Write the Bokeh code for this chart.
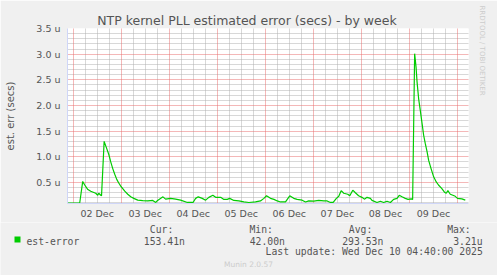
from bokeh.plotting import figure
from bokeh.layouts import column
from bokeh.models import (Range1d, FixedTicker, Title, Label, Grid)
from bokeh.embed import file_html
from bokeh.resources import INLINE

# ---------------- data ----------------
# time in hours since 2025-12-02 00:00, value in microseconds
hours_since_dec2 = [
    -2.8, 3.3, 4.8, 5.8, 7.2, 8.8, 11.3, 12.3, 12.8, 13.8, 14.2, 15.5,
    16.8, 17.8, 18.8, 19.8, 20.8, 21.8, 22.8, 23.8, 24.8, 25.8, 27.3, 28.8,
    30.3, 32.3, 34.8, 37.3, 39.8, 41.3, 42.2, 44.9, 46.2, 48.7, 51.2, 53.7,
    57.1, 59.9, 61.2, 62.5, 64.5, 66.2, 67.8, 69.8, 71.2, 73.7, 75.3, 77.0,
    78.2, 80.3, 82.8, 85.3, 87.8, 91.1, 93.6, 95.3, 96.6, 98.6, 100.3, 102.0,
    103.6, 106.1, 108.2, 110.2, 111.9, 114.4, 116.1, 117.7, 120.2, 122.7, 125.2, 126.9,
    128.5, 129.9, 131.5, 132.7, 133.9, 135.2, 137.2, 138.2, 139.7, 141.0, 142.6, 144.3,
    145.5, 146.8, 148.5, 149.3, 151.8, 153.5, 155.1, 156.8, 158.5, 160.1, 161.8, 162.9,
    164.3, 165.9, 167.3, 168.9, 169.6, 170.6, 171.3, 171.8, 172.6, 173.4, 174.3, 175.1,
    175.9, 176.8, 177.6, 178.8, 180.1, 181.4, 182.5, 184.2, 185.5, 186.4, 187.2, 188.4,
    189.7, 190.9, 192.0, 194.2, 195.9,
]
est_error_us = [
    0.10, 0.10, 0.52, 0.45, 0.37, 0.33, 0.29, 0.25, 0.29, 0.25, 0.24, 1.30,
    1.16, 1.05, 0.90, 0.77, 0.66, 0.56, 0.49, 0.43, 0.38, 0.33, 0.27, 0.22,
    0.19, 0.155, 0.145, 0.14, 0.15, 0.11, 0.15, 0.22, 0.175, 0.19, 0.175, 0.155,
    0.11, 0.11, 0.19, 0.22, 0.19, 0.155, 0.21, 0.25, 0.21, 0.21, 0.17, 0.17,
    0.19, 0.15, 0.14, 0.12, 0.11, 0.12, 0.14, 0.19, 0.24, 0.19, 0.17, 0.14,
    0.12, 0.12, 0.24, 0.19, 0.17, 0.155, 0.12, 0.14, 0.135, 0.15, 0.14, 0.14,
    0.11, 0.11, 0.19, 0.23, 0.34, 0.29, 0.27, 0.24, 0.35, 0.30, 0.24, 0.21,
    0.175, 0.21, 0.19, 0.15, 0.11, 0.135, 0.11, 0.135, 0.11, 0.17, 0.19, 0.25,
    0.22, 0.19, 0.17, 0.18, 0.17, 3.01, 2.75, 2.46, 2.13, 1.91, 1.65, 1.42,
    1.26, 1.10, 0.93, 0.77, 0.61, 0.51, 0.45, 0.38, 0.31, 0.29, 0.34, 0.27,
    0.25, 0.23, 0.19, 0.18, 0.155,
]
day_labels = ["02 Dec", "03 Dec", "04 Dec", "05 Dec", "06 Dec", "07 Dec", "08 Dec", "09 Dec"]
y_tick_values = [0.5, 1.0, 1.5, 2.0, 2.5, 3.0, 3.5]
y_tick_labels = ["0.5 u", "1.0 u", "1.5 u", "2.0 u", "2.5 u", "3.0 u", "3.5 u"]
series_name = "est-error"
stat_names = ["Cur:", "Min:", "Avg:", "Max:"]
stat_values = ["153.41n", "42.00n", "293.53n", "3.21u"]
last_update = "Last update: Wed Dec 10 04:40:00 2025"
title_text = "NTP kernel PLL estimated error (secs) - by week"
y_label_text = "est. err (secs)"
credit_text = "RRDTOOL / TOBI OETIKER"
version_text = "Munin 2.0.57"
x_start_h, x_end_h = -2.8, 197.5
y_start_us, y_end_us = 0.09, 3.5

# ---------------- styling ----------------
BG = "#f0f0f0"
FONT_C = "#555555"
LINE_C = "#00cc00"
AXIS_C = "#cfd6f8"
MGRID_C = "#e87070"
GRID_C = "#b0b0b0"
MONO = "DejaVu Sans Mono"
MONO_SIZE = "9.75px"

CHART_H = 222
LEG_H = 275 - CHART_H

p = figure(width=497, height=CHART_H, output_backend="svg", toolbar_location=None,
           x_range=Range1d(x_start_h, x_end_h), y_range=Range1d(y_start_us, y_end_us),
           min_border_left=67, min_border_right=29, min_border_top=28, min_border_bottom=19)
p.background_fill_color = "#ffffff"
p.border_fill_color = BG
p.outline_line_color = None
p.frame_align = False

# title
p.title.text = title_text
p.title.align = "left"
p.title.offset = 29.7
p.title.text_font = "DejaVu Sans"
p.title.text_font_size = "12.5px"
p.title.text_font_style = "normal"
p.title.text_color = FONT_C
p.title.standoff = 2

# grids: minor (grey, 6 h / 0.1 u) and major (red, days / 0.5 u), dotted
midnights = [24 * k for k in range(0, 9)]
six_h = [6 * k for k in range(0, 34) if (6 * k) % 24 != 0]
y_minor = [round(0.1 * k, 1) for k in range(1, 35) if k % 5 != 0]
p.xgrid.visible = False
p.ygrid.visible = False
grid_specs = [(0, six_h, GRID_C), (1, y_minor, GRID_C),
              (0, midnights, MGRID_C), (1, y_tick_values, MGRID_C)]
for dim, ticks, color in grid_specs:
    p.add_layout(Grid(dimension=dim, ticker=FixedTicker(ticks=ticks),
                      grid_line_color=color, grid_line_width=1, grid_line_dash="1 1"))

# axes
noons = [12 + 24 * k for k in range(len(day_labels))]
p.xaxis.ticker = FixedTicker(ticks=noons)
p.xaxis.major_label_overrides = {n: lab for n, lab in zip(noons, day_labels)}
p.yaxis.ticker = FixedTicker(ticks=y_tick_values)
p.yaxis.major_label_overrides = {v: lab for v, lab in zip(y_tick_values, y_tick_labels)}
for ax in (p.xaxis[0], p.yaxis[0]):
    ax.axis_line_color = AXIS_C
    ax.major_tick_line_color = None
    ax.minor_tick_line_color = None
    ax.major_tick_out = 0
    ax.major_tick_in = 0
    ax.minor_tick_out = 0
    ax.minor_tick_in = 0
    ax.major_label_text_font = "DejaVu Sans"
    ax.major_label_text_font_size = "9.5px"
    ax.major_label_text_color = FONT_C
p.xaxis.major_label_standoff = 4
p.yaxis.major_label_standoff = 7
p.yaxis.axis_label = y_label_text
p.yaxis.axis_label_text_font = "DejaVu Sans"
p.yaxis.axis_label_text_font_size = "10px"
p.yaxis.axis_label_text_font_style = "normal"
p.yaxis.axis_label_text_color = FONT_C
p.yaxis.axis_label_standoff = 17

# data line
p.line(hours_since_dec2, est_error_us, line_color=LINE_C, line_width=1.2)

# rrdtool credit on the right
p.add_layout(Title(text=credit_text, align="left", offset=-23, standoff=19,
                   text_font="DejaVu Sans", text_font_size="7px", text_font_style="normal",
                   text_color="#cccccc"), "right")

# ---------------- legend block (pixel-space figure under the chart) ----------------
leg = figure(width=497, height=LEG_H, output_backend="svg", toolbar_location=None,
             x_range=Range1d(0, 497), y_range=Range1d(LEG_H, 0),
             min_border=0, outline_line_color=None)
leg.frame_align = False
leg.axis.visible = False
leg.grid.visible = False
leg.background_fill_color = BG
leg.border_fill_color = BG

leg.quad(left=[14], right=[20], top=[14], bottom=[20], fill_color=LINE_C, line_color=None)

def txt(text, x, y, size=MONO_SIZE, font=MONO, color=FONT_C, align="left"):
    leg.add_layout(Label(x=x, y=y, text=text, text_font=font, text_font_size=size,
                         text_color=color, text_align=align, text_baseline="alphabetic"))

txt(series_name, 26, 18.7)
name_x = [149.3, 248.9, 348.3, 446.7]
value_x = [143.3, 249.2, 341.7, 452.7]
for nm, vl, nx, vx in zip(stat_names, stat_values, name_x, value_x):
    txt(nm, nx, 6.9)
    txt(vl, vx, 18.7)
txt(last_update, 482.3, 28.9, align="right")
txt(version_text, 248, 42.2, size="7.5px", font="DejaVu Sans", color="#cccccc", align="center")

layout = column(p, leg, spacing=0)
open("out.html", "w").write(file_html(layout, INLINE))
